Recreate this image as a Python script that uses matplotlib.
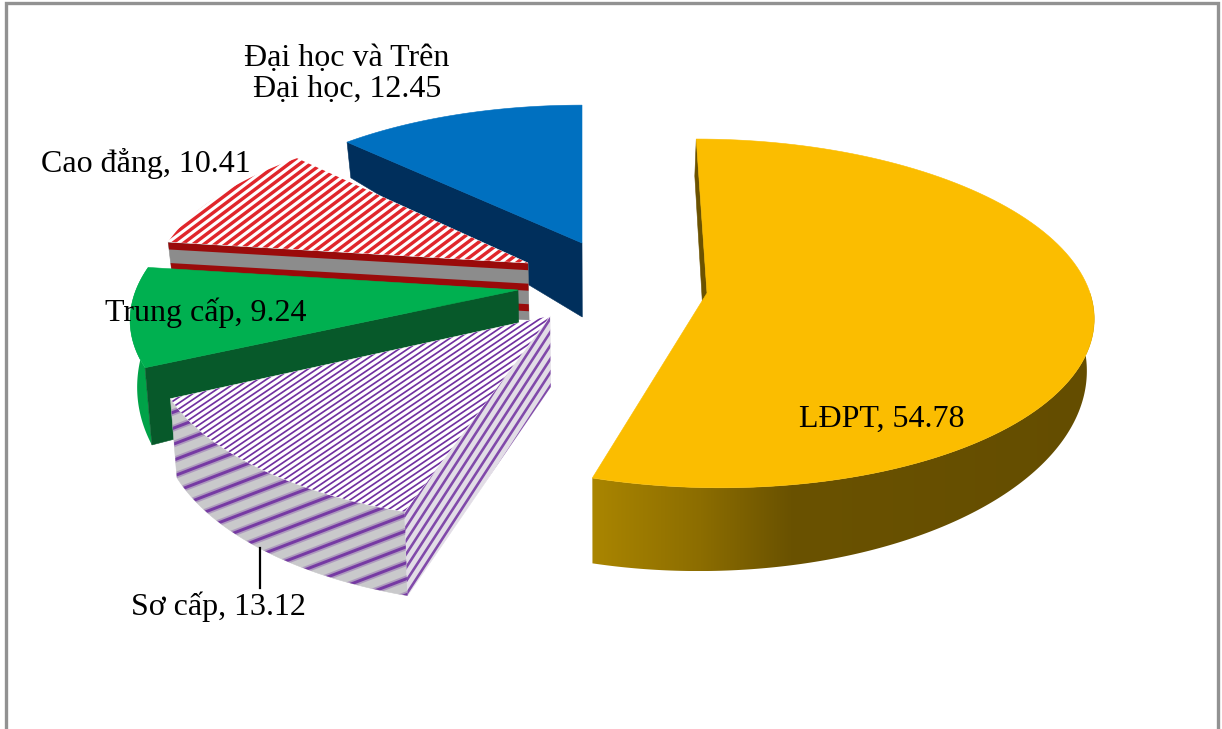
#! /usr/bin/env python3

import numpy as np
import matplotlib
matplotlib.use('Agg')
import matplotlib.pyplot as plt
from matplotlib.collections import LineCollection
from matplotlib.colors import LinearSegmentedColormap
from matplotlib.patches import Polygon

# chart data, clockwise from 12 o'clock
categories = ['LĐPT', 'Sơ cấp', 'Trung cấp', 'Cao đẳng', 'Đại học và Trên\nĐại học']
values = [54.78, 13.12, 9.24, 10.41, 12.45]

# one perspective fit per exploded slice, measured in image pixels
center_x = [707, 550, 518, 528, 582]
center_y = [293, 316, 290, 263, 243]
radius_x = [383, 393, 382, 371, 361]
radius_y = [172, 182, 171, 160, 154]
skew = [-12, 13.5, 22, 16, 0]
depth_0 = [60, 71, 60, 57, 74]
depth_v = [-23, -12.7, -40, -20, -54]
depth_u = [-11.5, -2.8, 0, 0, 0]
PERSPECTIVE = 0.117
VANISH_X = 600
VANISH_RATE = 0.015

# label positions
label_x = [882, 218, 206, 146, 347]
label_y = [419, 607, 313, 163, 74]

FONT_SIZE = 23

edges = np.radians(np.concatenate([[0], np.cumsum(values)]) * 3.6)


def top_point(i, theta, r=1.0):
    '''point on the top face of slice i, theta clockwise from the back of the pie'''
    u = r * np.sin(theta)
    v = r * np.cos(theta)
    w = 1 + PERSPECTIVE * v
    x = center_x[i] + (radius_x[i] * u + skew[i] * v) / w
    y = center_y[i] - radius_y[i] * v / w
    return np.array(x), np.array(y)


def bottom_point(i, theta, r=1.0):
    '''same point on the underside of slice i'''
    x, y = top_point(i, theta, r)
    u = r * np.sin(theta)
    v = r * np.cos(theta)
    t = depth_0[i] + depth_v[i] * v + depth_u[i] * u
    return x + (VANISH_X - x) * VANISH_RATE, y + t


def top_face(i):
    thetas = np.linspace(edges[i], edges[i + 1], 120)
    x, y = top_point(i, thetas)
    ax_, ay_ = top_point(i, 0.0, 0.0)
    return np.column_stack([np.append(x, ax_), np.append(y, ay_)])


def rim_side(i, start=None, stop=None):
    start = edges[i] if start is None else start
    stop = edges[i + 1] if stop is None else stop
    thetas = np.linspace(start, stop, 160)
    x1, y1 = top_point(i, thetas)
    x2, y2 = bottom_point(i, thetas)
    return np.column_stack([np.append(x1, x2[::-1]), np.append(y1, y2[::-1])])


def wall(i, theta):
    x1, y1 = top_point(i, theta)
    x2, y2 = bottom_point(i, theta)
    x3, y3 = bottom_point(i, theta, 0.0)
    x4, y4 = top_point(i, theta, 0.0)
    return np.array([[x1, y1], [x2, y2], [x3, y3], [x4, y4]])


def add_face(points, color, zorder):
    patch = Polygon(points, closed=True, facecolor=color, edgecolor=color, linewidth=0.4, zorder=zorder)
    ax.add_patch(patch)
    return patch


def add_stripes(patch, angle, spacing, width, color, zorder, phase=0.0, alpha=1.0):
    '''straight stripes rising to the right, clipped to a face; spacing is vertical in pixels'''
    pts = patch.get_xy()
    xmin, xmax = pts[:, 0].min() - 1, pts[:, 0].max() + 1
    ymin, ymax = pts[:, 1].min() - 1, pts[:, 1].max() + 1
    slope = np.tan(np.radians(angle))
    starts = np.arange(ymin + phase, ymax + max(slope, 0) * (xmax - xmin) + spacing, spacing)
    segments = [[(xmin, s), (xmax, s - slope * (xmax - xmin))] for s in starts]
    lines = LineCollection(segments, colors=color, linewidths=width * 0.72, alpha=alpha, zorder=zorder)
    ax.add_collection(lines)
    lines.set_clip_path(patch)


def add_gradient_rim(i, start, stop, stops, colors, zorder):
    '''outer side of a slice, shaded across the image from left to right'''
    points = rim_side(i, start, stop)
    patch = Polygon(points, closed=True, facecolor='none', edgecolor='none', zorder=zorder)
    ax.add_patch(patch)
    ymin, ymax = points[:, 1].min(), points[:, 1].max()
    fractions = [(s - stops[0]) / (stops[-1] - stops[0]) for s in stops]
    cmap = LinearSegmentedColormap.from_list('rim', list(zip(fractions, colors)))
    shade = np.linspace(0, 1, 256).reshape(1, -1)
    image = ax.imshow(shade, cmap=cmap, extent=[stops[0], stops[-1], ymax, ymin], aspect='auto',
                      interpolation='bilinear', zorder=zorder)
    image.set_clip_path(patch)


fig = plt.figure(figsize=(12.22, 7.29), dpi=100)
ax = fig.add_axes([0, 0, 1, 1])
ax.axis('off')

# grey frame, open at the bottom
frame_x = [5.5, 5.5, 1218, 1218]
frame_y = [729, 3, 3, 729]
ax.plot(frame_x, frame_y, color='#929292', linewidth=2.4, solid_joinstyle='miter', zorder=1)

# Dai hoc slice (furthest back)
add_face(wall(4, edges[4]), '#002F5C', 2)
add_face(top_face(4), '#0070C0', 3)

# Cao dang slice
cao_wall = add_face(wall(3, edges[3]), '#8C8C8C', 4)
add_stripes(cao_wall, -3.3, 20.5, 7, '#9A0A0A', 5, phase=5.0)
cao_top = add_face(top_face(3), '#FFFFFF', 6)
add_stripes(cao_top, 37, 8.2, 3.4, '#E0262B', 7)

# Trung cap slice
add_gradient_rim(2, edges[2], edges[3], [125, 200], ['#00A047', '#00AC4C'], 8)
add_face(wall(2, edges[2]), '#07592A', 9)
add_face(top_face(2), '#00B050', 10)

# So cap slice
purple = '#7030A0'
so_rim = add_face(rim_side(1), '#C9C9CB', 11)
add_stripes(so_rim, 21, 16, 6.5, purple, 12, alpha=0.3)
add_stripes(so_rim, 21, 16, 3.0, purple, 12, alpha=0.9)
so_wall = add_face(wall(1, edges[1]), '#E2DDE6', 11)
add_stripes(so_wall, 57, 13.5, 2.6, purple, 12, alpha=0.85)
so_top = add_face(top_face(1), '#FFFFFF', 13)
add_stripes(so_top, 34, 5.9, 1.7, purple, 14)

# LDPT slice (closest)
add_face(wall(0, edges[0]), '#6B5200', 15)
add_gradient_rim(0, np.radians(90), edges[1], [585, 700, 790, 1100],
                 ['#AC8700', '#8C6D00', '#6A5200', '#644D00'], 15)
add_face(top_face(0), '#FBBD00', 16)

# leader line for So cap
leader_x = [260, 260]
leader_y = [548, 588]
ax.plot(leader_x, leader_y, color='black', linewidth=1.6, zorder=20)

# data labels
for name, value, lx, ly in zip(categories, values, label_x, label_y):
    ax.text(lx, ly, f'{name}, {value:.2f}', family=['Liberation Serif', 'DejaVu Serif'], fontsize=FONT_SIZE,
            color='black', ha='center', va='center', linespacing=1.12, zorder=21)

ax.set_xlim(0, 1222)
ax.set_ylim(729, 0)

plt.savefig('out.png', dpi=100)
